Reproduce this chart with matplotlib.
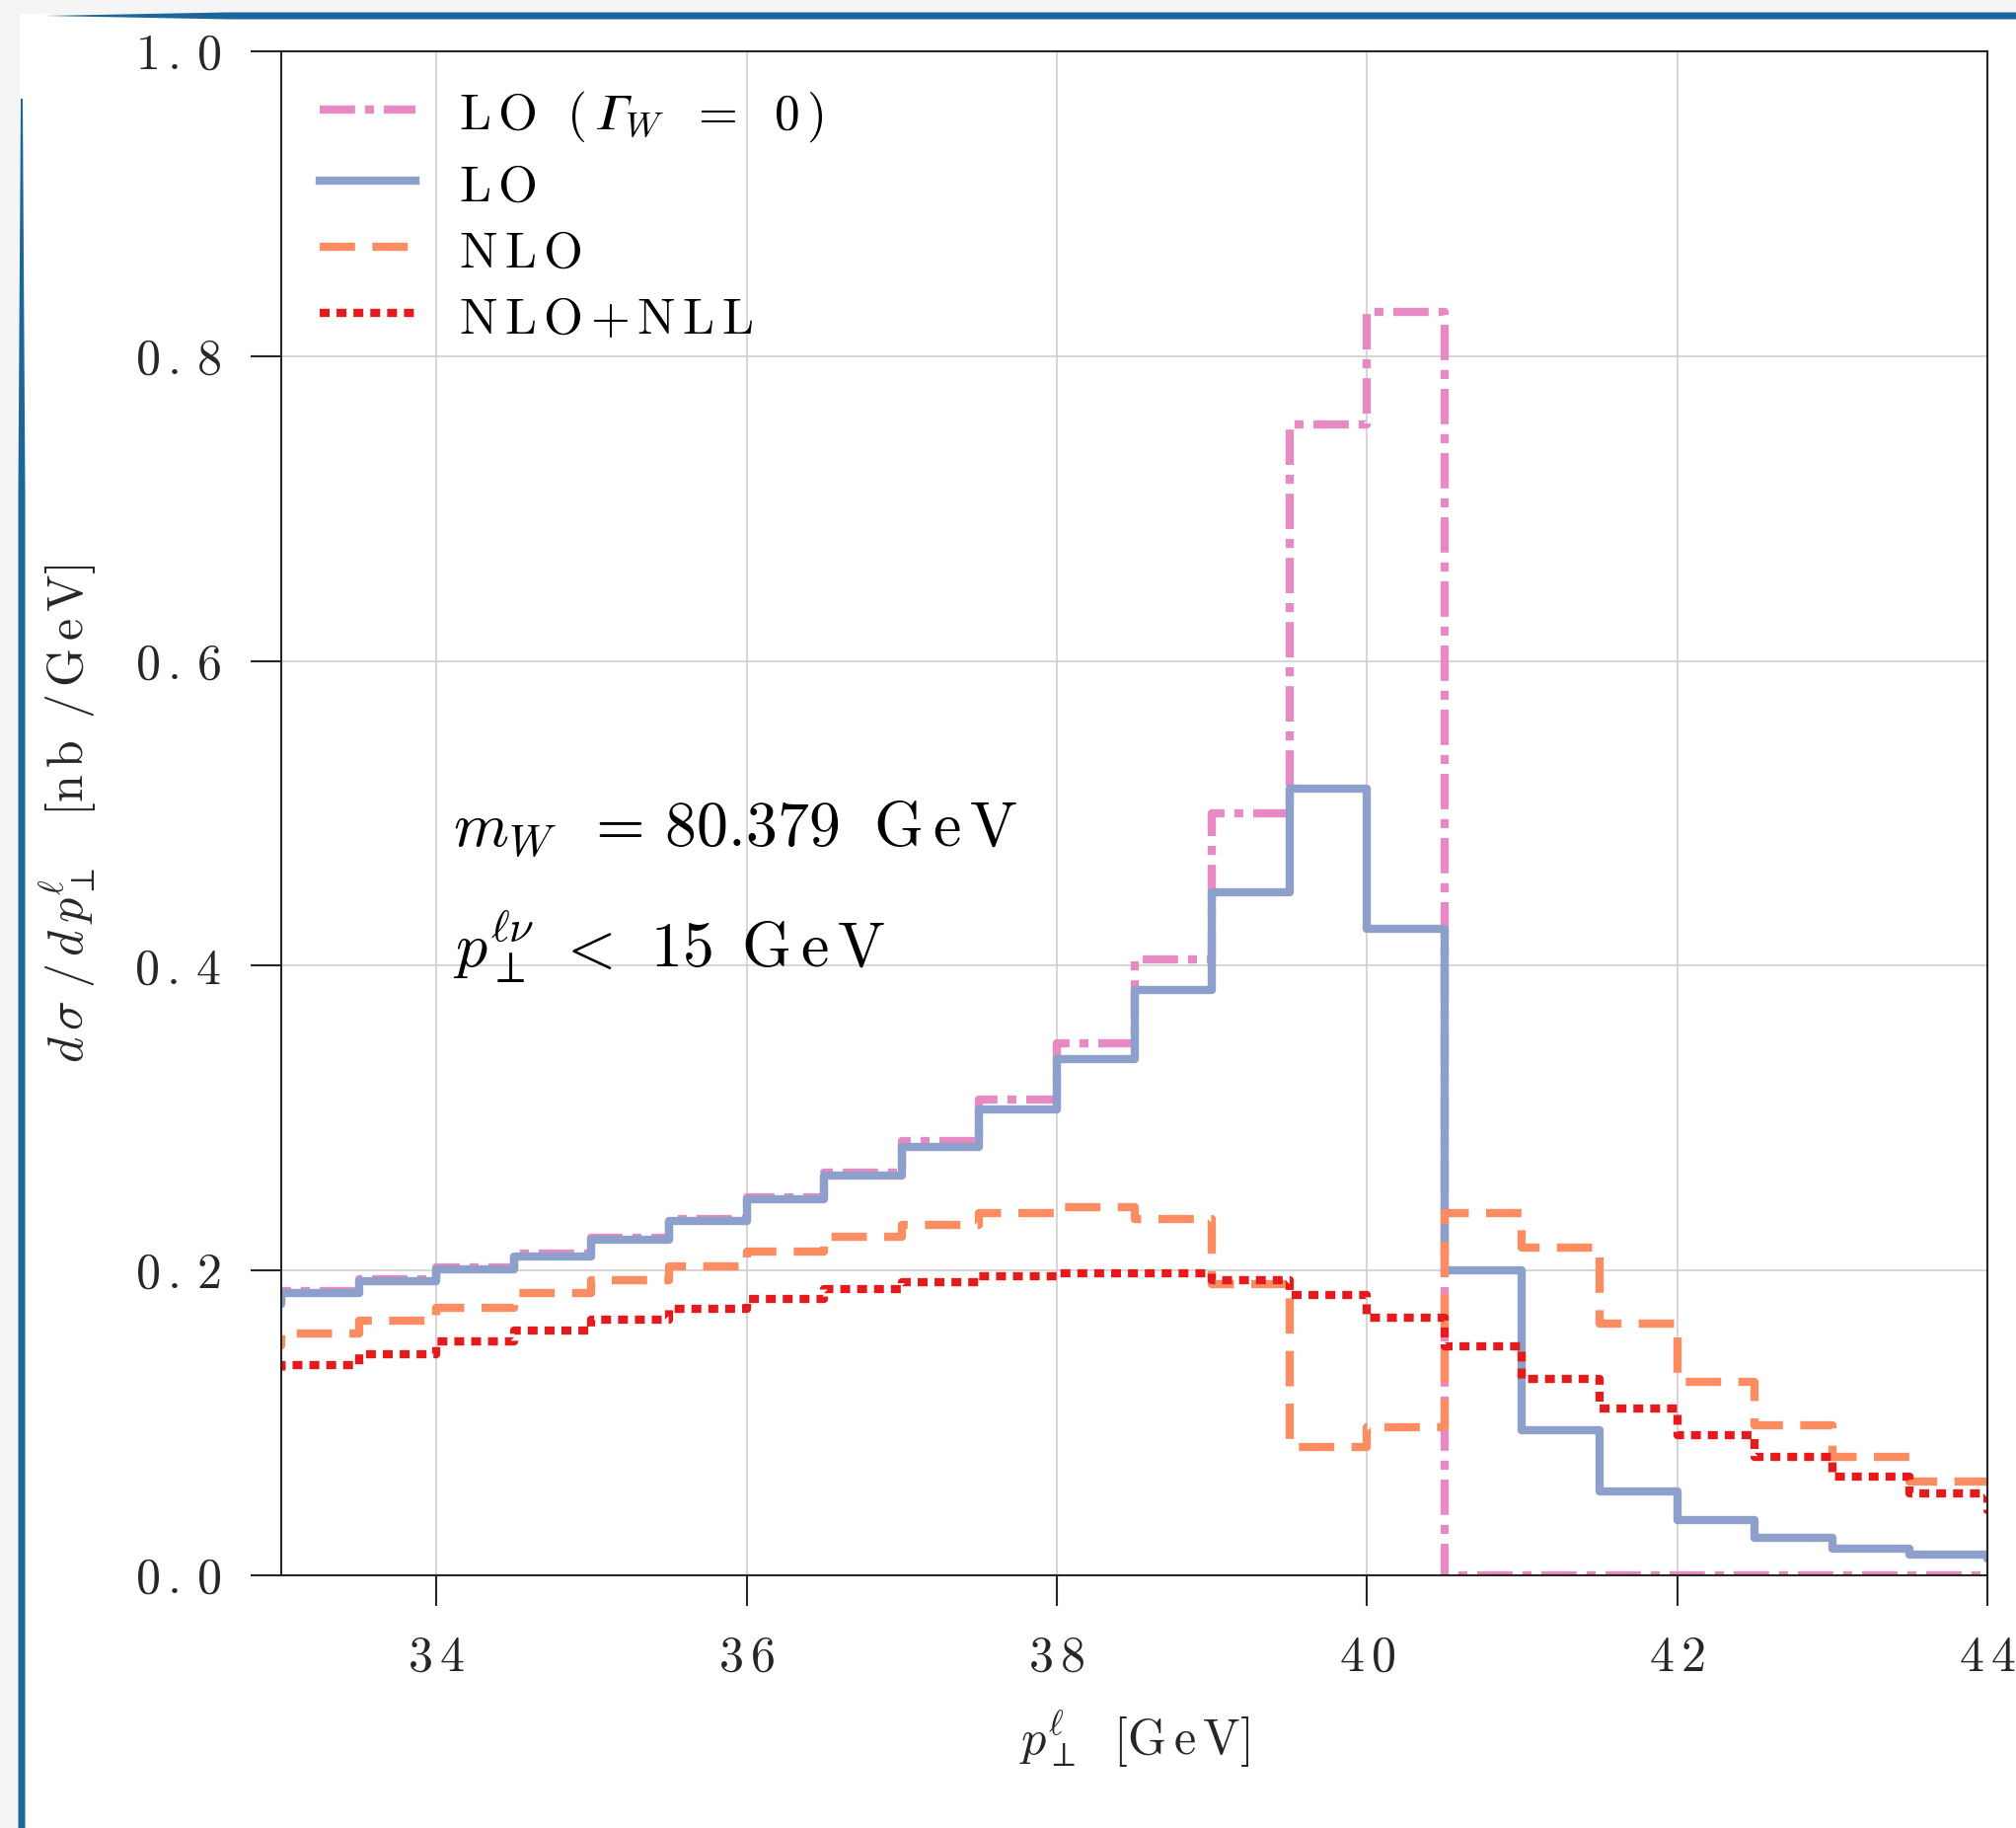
import numpy as np
import matplotlib
matplotlib.use("Agg")
import matplotlib.pyplot as plt
from matplotlib.patches import Polygon, Rectangle

plt.rcParams['font.family'] = 'cmr10'
plt.rcParams['mathtext.fontset'] = 'cm'
plt.rcParams['axes.formatter.use_mathtext'] = True

# histogram bins of 0.5 GeV (one extra bin on each side, clipped by xlim)
bin_edges = np.arange(32.5, 44.51, 0.5)

lo_w0 = [0.179, 0.1865, 0.1945, 0.202, 0.211, 0.2215, 0.234, 0.248, 0.264, 0.285,
         0.312, 0.349, 0.404, 0.500, 0.755, 0.829, 0.0, 0.0, 0.0, 0.0,
         0.0, 0.0, 0.0, 0.0]
lo = [0.178, 0.185, 0.193, 0.2005, 0.2095, 0.220, 0.2324, 0.2465, 0.262, 0.281,
      0.306, 0.339, 0.384, 0.448, 0.516, 0.424, 0.200, 0.095, 0.055, 0.036,
      0.0245, 0.0175, 0.0137, 0.011]
nlo = [0.151, 0.1587, 0.1669, 0.1757, 0.1854, 0.1935, 0.2028, 0.2127, 0.222, 0.230,
       0.238, 0.2416, 0.234, 0.191, 0.0844, 0.097, 0.2375, 0.215, 0.165, 0.127,
       0.0987, 0.0774, 0.0618, 0.051]
nlo_nll = [0.130, 0.1379, 0.1453, 0.1534, 0.1608, 0.168, 0.175, 0.1812, 0.1877, 0.1924,
           0.196, 0.1984, 0.198, 0.1938, 0.1838, 0.1688, 0.150, 0.129, 0.1095, 0.092,
           0.0777, 0.0646, 0.0538, 0.043]

labels = [r'$\mathrm{L\,O}\ \ (\,𝛤_W\ \;=\ \;0\,)$', r'$\mathrm{L\,O}$',
          r'$\mathrm{N\,L\,O}$', r'$\mathrm{N\,L\,O\,{+}\,N\,L\,L}$']
colors = ['#e78ac3', '#8da0cb', '#fc8d62', '#e41a1c']
styles = [(0, (4.3, 1.2, 1.1, 1.2)), '-', (0, (4.3, 2.1)), (0, (1.2, 0.85))]

xticks = [34, 36, 38, 40, 42, 44]
xtick_labels = ['34', '36', '38', '40', '42', '44']
yticks = [0.0, 0.2, 0.4, 0.6, 0.8, 1.0]
ytick_labels = ['0.0', '0.2', '0.4', '0.6', '0.8', '1.0']


def tracked(s):
    # the LaTeX output in the original is a bit letter spaced
    return '$' + r'\,'.join(s) + '$'


W, H = 2043, 1852
fig = plt.figure(figsize=(W / 100, H / 100), dpi=100)

# page edge from the screenshot
fig.add_artist(Rectangle((0, 0), 18.5 / W, 1, transform=fig.transFigure,
                         color='#f5f5f5', zorder=-5))
fig.add_artist(Rectangle((0, 1 - 12.5 / H), 1, 12.5 / H, transform=fig.transFigure,
                         color='#f5f5f5', zorder=-5))
top_bar = [(45, 16), (230, 12.5), (W, 12.5), (W, 19.5), (230, 19.5)]
left_bar = [(21, 100), (23, 100), (25.5, 500), (25.5, H), (18.5, H), (18.5, 500)]
for pts in (top_bar, left_bar):
    fig.add_artist(Polygon([(x / W, 1 - y / H) for x, y in pts], closed=True,
                           transform=fig.transFigure, color='#1c6699', lw=0))

ax = fig.add_axes([285 / W, 1 - 1596 / H, (2014 - 285) / W, (1596 - 52) / H])

series = [lo_w0, lo, nlo, nlo_nll]
for vals, lab, col, ls in zip(series, labels, colors, styles):
    ax.step(bin_edges, np.append(vals, vals[-1]), where='post', color=col,
            linestyle=ls, linewidth=6, label=lab, dash_capstyle='butt')

ax.set_xlim(33, 44)
ax.set_ylim(0, 1.0)
ax.set_xticks(xticks, labels=[tracked(s) for s in xtick_labels])
ax.set_yticks(yticks, labels=[tracked(s) for s in ytick_labels])
ax.grid(True, color='#cccccc', linewidth=1.1)
ax.set_axisbelow(True)
for sp in ax.spines.values():
    sp.set_color('#262626')
    sp.set_linewidth(1.5)
ax.tick_params(axis='both', direction='out', length=22, width=1.5, color='#262626',
               labelsize=36, labelcolor='#262626', pad=22)

ax.set_xlabel(r'$p_\perp^\ell\ \ [\mathrm{G\,e\,V}]$', fontsize=36, color='#262626',
              labelpad=20)
ax.set_ylabel(r'$d\,\sigma\,\,/\,d\,p_\perp^\ell\quad[\mathrm{n\,b\ \,/\,G\,e\,V}]$',
              fontsize=36, color='#262626', labelpad=26)

ax.text(34.11, 0.4786, r'$m_W\;\;=\,80.379\ \;\mathrm{G\,e\,V}$', fontsize=46)
ax.text(34.11, 0.399, r'$p_\perp^{\ell\nu}\,\,<\;\,15\ \,\mathrm{G\,e\,V}$', fontsize=46)

ax.legend(loc='upper left', fontsize=37, frameon=False, handlelength=1.9,
          handleheight=1.0, handletextpad=0.85, labelspacing=0.32,
          borderaxespad=0.5, borderpad=0.25)

fig.savefig('out.png', dpi=100)
